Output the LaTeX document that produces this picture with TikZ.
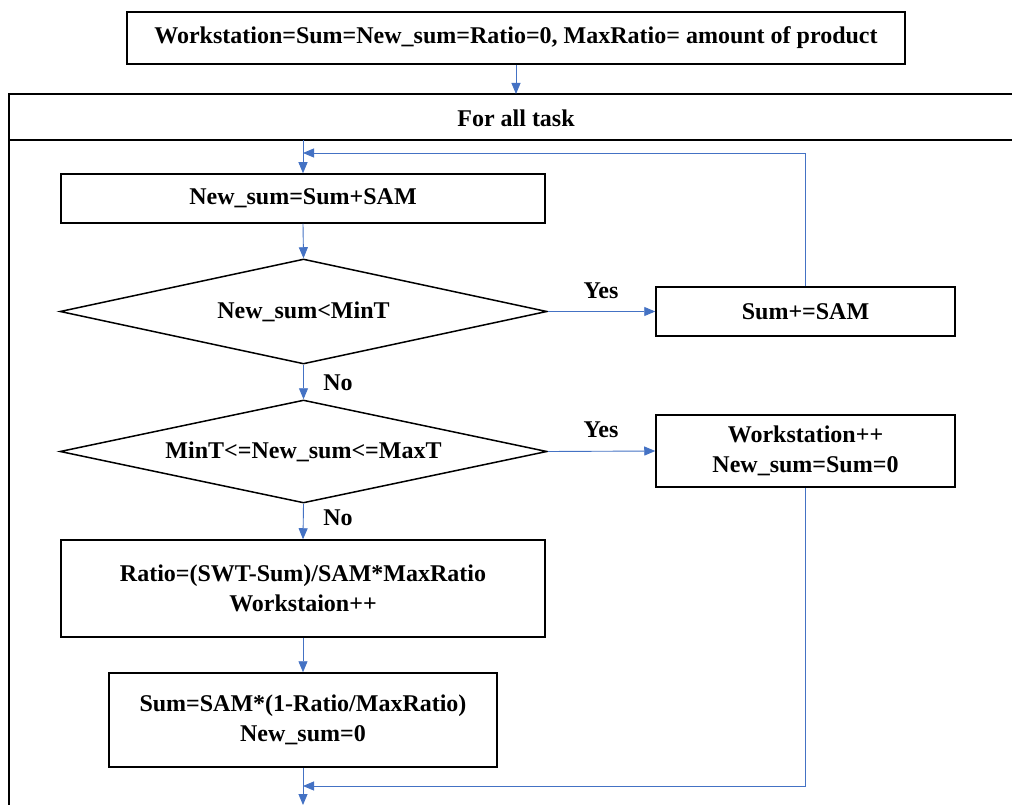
\documentclass[tikz,border=0pt]{standalone}
\usepackage{fontspec}
\setmainfont{Liberation Serif}
\usetikzlibrary{shapes.geometric,arrows.meta}
\definecolor{flowblue}{HTML}{4472C4}
\tikzset{
  box/.style={draw=black,line width=1.5pt,rectangle,inner sep=2pt,align=center,
    font=\fontsize{24}{30}\selectfont\bfseries},
  dia/.style={draw=black,line width=1.5pt,diamond,inner sep=0pt,align=center,
    font=\fontsize{24}{30}\selectfont\bfseries},
  lbl/.style={font=\fontsize{24}{30}\selectfont\bfseries,inner sep=0pt},
  conn/.style={draw=flowblue,line width=0.9pt,-{Triangle[length=11pt,width=9pt]}},
  frame/.style={draw=black,line width=1.5pt}
}
\begin{document}
\begin{tikzpicture}[x=1pt,y=-1pt]
\clip (0,0) rectangle (1012,805);
\fill[white] (0,0) rectangle (1012,805);
% outer loop frame
\draw[frame] (1030,94) -- (9,94) -- (9,830);
\draw[frame] (9,140) -- (1030,140);
\node[lbl] (hdr) at (516,118) {For all task};
\node[box,minimum width=778pt,minimum height=52pt] (init) at (516,38) {Workstation=Sum=New\_sum=Ratio=0, MaxRatio= amount of product};
\coordinate (ftop) at (516,94);
\coordinate (lstart) at (303,140);
\coordinate (ljoin) at (303,153);
\coordinate (bjoin) at (303,786);
\coordinate (bend) at (303,805);
\node[box,minimum width=484pt,minimum height=49pt] (b1) at (303,198.5) {New\_sum=Sum+SAM};
\node[dia,aspect=4.64,minimum width=487pt,minimum height=105pt] (d1) at (303.5,311.5) {New\_sum<MinT};
\node[box,minimum width=299pt,minimum height=49pt] (s1) at (805.5,311.5) {Sum+=SAM};
\node[dia,aspect=4.73,minimum width=487pt,minimum height=103pt] (d2) at (303.5,451.5) {MinT<=New\_sum<=MaxT};
\node[box,minimum width=299pt,minimum height=72pt] (ws) at (805.5,451) {Workstation++\\New\_sum=Sum=0};
\node[box,minimum width=484pt,minimum height=97pt] (ra) at (303,588.5) {Ratio=(SWT-Sum)/SAM*MaxRatio\\Workstaion++};
\node[box,minimum width=388pt,minimum height=94pt] (su) at (303,720) {Sum=SAM*(1-Ratio/MaxRatio)\\New\_sum=0};
% connectors
\draw[conn] (init.south) -- (ftop);
\draw[conn] (lstart) -- (b1.north);
\draw[conn] (s1.north) |- (ljoin);
\draw[conn] (b1.south) -- (d1.north);
\draw[conn] (d1.east) -- (s1.west);
\draw[conn] (d1.south) -- (d2.north);
\draw[conn] (d2.east) -- (ws.west);
\draw[conn] (d2.south) -- (ra.north);
\draw[conn] (ra.south) -- (su.north);
\draw[conn] (su.south) -- (bend);
\draw[conn] (ws.south) |- (bjoin);
% labels
\node[lbl] (y1) at (601,291) {Yes};
\node[lbl] (y2) at (601,430) {Yes};
\node[lbl] (n1) at (338,383) {No};
\node[lbl] (n2) at (338,518) {No};
\end{tikzpicture}
\end{document}
